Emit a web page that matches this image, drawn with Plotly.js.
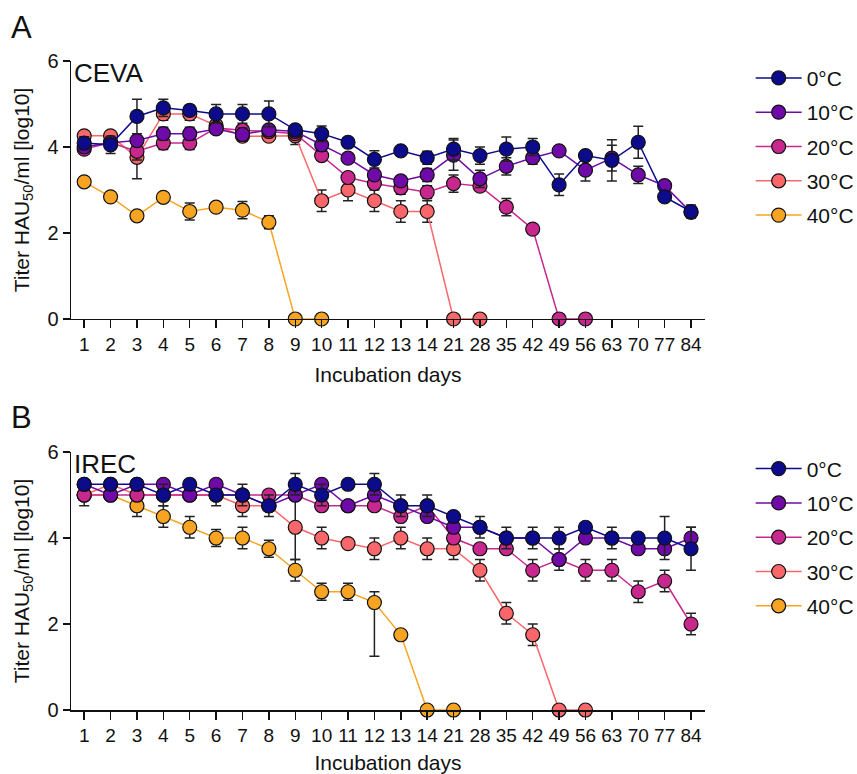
<!DOCTYPE html>
<html>
<head>
<meta charset="utf-8">
<script src="https://cdn.plot.ly/plotly-3.0.1.min.js"></script>
<style>html,body{margin:0;padding:0;background:#fff;}#chart{width:857px;height:774px;}</style>
</head>
<body>
<div id="chart"></div>
<script>
const days = ["1","2","3","4","5","6","7","8","9","10","11","12","13","14","21","28","35","42","49","56","63","70","77","84"];
const seriesNames = ["0°C","10°C","20°C","30°C","40°C"];
const seriesColors = ["#0b0b8c","#6f0aa8","#c8288e","#f9676a","#f8a423"];

// Panel A: CEVA
const cevaT0  = [4.09,4.05,4.71,4.91,4.85,4.77,4.77,4.77,4.40,4.31,4.11,3.71,3.91,3.75,3.95,3.80,3.95,4.00,3.12,3.80,3.69,4.11,2.84,2.50];
const cevaT0e = [0.15,0.20,0.40,0.20,0.12,0.22,0.22,0.30,0.10,0.18,0.10,0.20,0.10,0.15,0.25,0.20,0.28,0.20,0.25,0.10,0.48,0.37,0.10,0.15];
const cevaT10  = [4.00,4.10,4.15,4.31,4.31,4.42,4.29,4.40,4.36,4.05,3.74,3.35,3.21,3.35,3.81,3.26,3.55,3.75,3.91,3.46,3.74,3.35,3.10,2.48];
const cevaT10e = [0.10,0.10,0.10,0.15,0.15,0.10,0.15,0.10,0.10,0.15,0.10,0.10,0.10,0.15,0.35,0.20,0.20,0.15,0.10,0.25,0.30,0.20,0.10,0.10];
const cevaT20  = [3.95,4.10,3.90,4.09,4.09,4.44,4.39,4.36,4.31,3.80,3.29,3.15,3.05,2.95,3.15,3.09,2.60,2.09,0,0,null,null,null,null];
const cevaT20e = [0.10,0.10,0.20,0.15,0.15,0.10,0.10,0.10,0.10,0.10,0.10,0.10,0.15,0.15,0.20,0.10,0.20,0.10,0,0,0,0,0,0];
const cevaT30  = [4.26,4.26,3.76,4.77,4.77,4.50,4.25,4.25,4.26,2.75,3.00,2.75,2.50,2.50,0,0,null,null,null,null,null,null,null,null];
const cevaT30e = [0.10,0.10,0.50,0.15,0.15,0.10,0.10,0.10,0.20,0.25,0.25,0.25,0.25,0.25,0,0,0,0,0,0,0,0,0,0];
const cevaT40  = [3.19,2.84,2.40,2.83,2.50,2.60,2.53,2.25,0,0,null,null,null,null,null,null,null,null,null,null,null,null,null,null];
const cevaT40e = [0.10,0.10,0.10,0.10,0.20,0.10,0.20,0.15,0,0,0,0,0,0,0,0,0,0,0,0,0,0,0,0];

// Panel B: IREC
const irecT0  = [5.25,5.25,5.25,5.00,5.25,5.00,5.00,4.75,5.25,5.00,5.25,5.25,4.75,4.75,4.50,4.25,4.00,4.00,4.00,4.25,4.00,4.00,4.00,3.75];
const irecT0e = [0,0.10,0,0.25,0,0,0.25,0.25,0.25,0.25,0,0.25,0.25,0.25,0,0.25,0.25,0.25,0.25,0,0.25,0,0.50,0.50];
const irecT10  = [5.25,5.00,5.25,5.25,5.00,5.25,5.00,4.75,5.00,5.25,4.75,5.00,4.75,4.50,4.25,4.25,4.00,4.00,3.50,4.00,4.00,3.75,3.75,4.00];
const irecT10e = [0,0,0,0,0,0,0,0,0,0,0,0,0,0,0,0,0,0,0.25,0,0,0,0,0.25];
const irecT20  = [5.00,5.00,5.00,5.00,5.00,5.00,5.00,5.00,5.00,4.75,4.75,4.75,4.50,4.75,4.00,3.75,3.75,3.25,3.50,3.25,3.25,2.75,3.00,2.00];
const irecT20e = [0.25,0,0,0,0,0.25,0,0,0,0,0,0,0,0,0,0,0,0.25,0,0.25,0.25,0.25,0.25,0.25];
const irecT30  = [5.00,5.25,5.00,5.00,5.00,5.00,4.75,4.75,4.25,4.00,3.87,3.75,4.00,3.75,3.75,3.25,2.25,1.75,0,0,null,null,null,null];
const irecT30e = [0,0,0,0,0,0,0.25,0,0.75,0.25,0.10,0.25,0.25,0.25,0.25,0.25,0.25,0.25,0,0,0,0,0,0];
const irecT40  = [5.00,5.00,4.75,4.50,4.25,4.00,4.00,3.75,3.25,2.75,2.75,2.50,1.75,0,0,null,null,null,null,null,null,null,null,null];
const irecT40e = [0,0,0.25,0.25,0.25,0.20,0.25,0.20,0.25,0.20,0.20,0.25,0,0,0,0,0,0,0,0,0,0,0,0];
const irecT40em = [0,0,0.25,0.25,0.25,0.20,0.25,0.20,0.25,0.20,0.20,1.25,0,0,0,0,0,0,0,0,0,0,0,0];

const FONT = "Liberation Sans, Arial, sans-serif";

function mk(vals, err, errMinus, i, xa, ya, legend) {
  return {
    x: days, y: vals, type: "scatter", mode: "lines+markers",
    name: seriesNames[i], legend: legend, legendgroup: legend + i, legendrank: i + 1,
    xaxis: xa, yaxis: ya, cliponaxis: false,
    line: {color: seriesColors[i], width: 1.5},
    marker: {color: seriesColors[i], size: 14, line: {color: "#111", width: 1.2}},
    error_y: {type: "data", symmetric: errMinus ? false : true, array: err, arrayminus: errMinus || undefined,
              color: "#222", thickness: 1.5, width: 5}
  };
}

const traces = [
  mk(cevaT40, cevaT40e, null, 4, "x", "y", "legend"),
  mk(cevaT30, cevaT30e, null, 3, "x", "y", "legend"),
  mk(cevaT20, cevaT20e, null, 2, "x", "y", "legend"),
  mk(cevaT10, cevaT10e, null, 1, "x", "y", "legend"),
  mk(cevaT0, cevaT0e, null, 0, "x", "y", "legend"),
  mk(irecT40, irecT40e, irecT40em, 4, "x2", "y2", "legend2"),
  mk(irecT30, irecT30e, null, 3, "x2", "y2", "legend2"),
  mk(irecT20, irecT20e, null, 2, "x2", "y2", "legend2"),
  mk(irecT10, irecT10e, null, 1, "x2", "y2", "legend2"),
  mk(irecT0, irecT0e, null, 0, "x2", "y2", "legend2")
];

function xax(anchor) {
  return {
    type: "category", categoryorder: "array", categoryarray: days,
    range: [-0.5, 23.53], anchor: anchor, showgrid: false, zeroline: false,
    showline: true, linecolor: "#111", linewidth: 1.5,
    ticks: "outside", ticklen: 8, tickwidth: 1.5, tickcolor: "#111",
    tickfont: {family: FONT, size: 19, color: "#111"}, tickangle: 0,
    title: {text: "Incubation days", font: {family: FONT, size: 21, color: "#111"}, standoff: 13}
  };
}
function yax(anchor, domain) {
  return {
    range: [0, 6], domain: domain, anchor: anchor, tickvals: [0, 2, 4, 6],
    showgrid: false, zeroline: false, showline: true, linecolor: "#111", linewidth: 1.5,
    ticks: "outside", ticklen: 7, tickwidth: 1.5, tickcolor: "#111",
    tickfont: {family: FONT, size: 20, color: "#111"},
    title: {text: "Titer HAU<sub>50</sub>/ml [log10]", font: {family: FONT, size: 21, color: "#111"}, standoff: 12}
  };
}

const legendCommon = {
  xanchor: "left", yanchor: "top", bgcolor: "rgba(0,0,0,0)", itemwidth: 46,
  font: {family: FONT, size: 21, color: "#111"}, tracegroupgap: 4, traceorder: "grouped"
};

const layout = {
  width: 857, height: 774,
  margin: {l: 71, r: 152, t: 61, b: 64, autoexpand: false},
  paper_bgcolor: "#fff", plot_bgcolor: "#fff",
  showlegend: true,
  xaxis: xax("y"), yaxis: yax("x", [0.6025, 1]),
  xaxis2: xax("y2"), yaxis2: yax("x2", [0, 0.3975]),
  legend: Object.assign({x: 1.072, y: 1.005}, legendCommon),
  legend2: Object.assign({x: 1.072, y: 0.403}, legendCommon),
  annotations: [
    {text: "A", xref: "paper", yref: "paper", x: -0.098, y: 1.052, xanchor: "left", yanchor: "middle", showarrow: false, font: {family: FONT, size: 31, color: "#111"}},
    {text: "B", xref: "paper", yref: "paper", x: -0.098, y: 0.45, xanchor: "left", yanchor: "middle", showarrow: false, font: {family: FONT, size: 31, color: "#111"}},
    {text: "CEVA", xref: "paper", yref: "paper", x: 0.002, y: 1.008, xanchor: "left", yanchor: "top", showarrow: false, font: {family: FONT, size: 26, color: "#111"}},
    {text: "IREC", xref: "paper", yref: "paper", x: 0.002, y: 0.406, xanchor: "left", yanchor: "top", showarrow: false, font: {family: FONT, size: 26, color: "#111"}}
  ]
};

Plotly.newPlot("chart", traces, layout, {displayModeBar: false, staticPlot: true});
</script>
</body>
</html>
